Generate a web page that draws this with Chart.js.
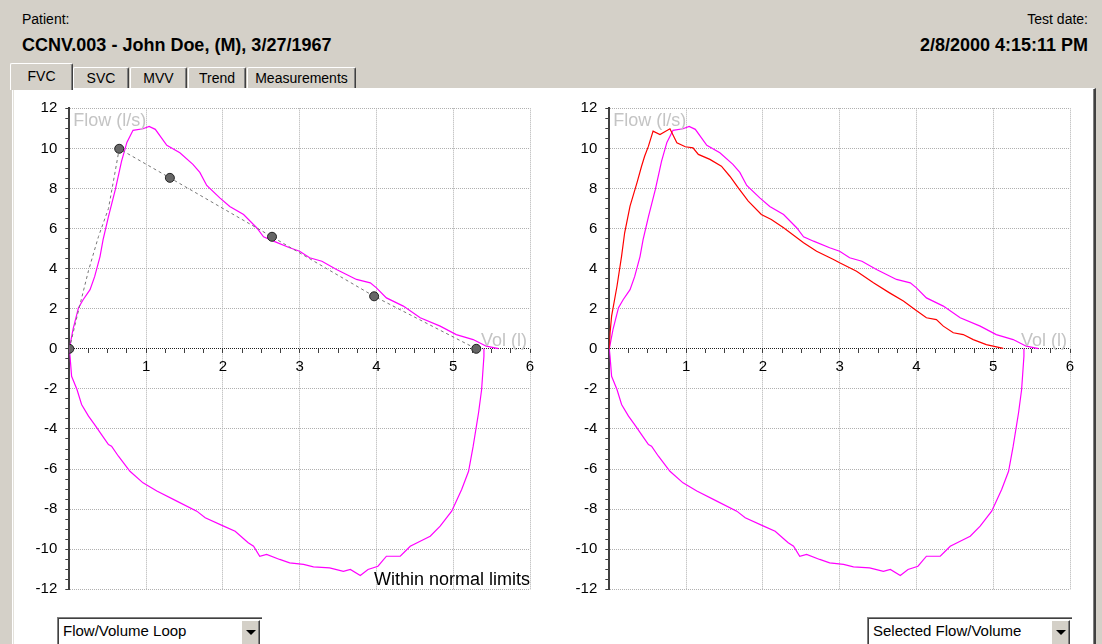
<!DOCTYPE html>
<html>
<head>
<meta charset="utf-8">
<script src="https://cdn.jsdelivr.net/npm/chart.js@4.4.1/dist/chart.umd.min.js"></script>
<style>
  html, body { margin: 0; padding: 0; }
  body {
    width: 1102px; height: 644px; overflow: hidden; position: relative;
    background: #d4d0c8; font-family: "Liberation Sans", Arial, sans-serif; color: #000;
  }
  .txt { position: absolute; white-space: nowrap; }
  .small { font-size: 14px; }
  .big { font-size: 18px; font-weight: bold; }
  .tab {
    position: absolute; top: 67px; height: 22px; box-sizing: border-box;
    background: #d4d0c8; border-left: 1px solid #fff; border-top: 1px solid #fff;
    border-right: 1px solid #404040; box-shadow: inset -1px 0 #808080;
    border-radius: 2px 2px 0 0; font-size: 14px; text-align: center; line-height: 20px;
  }
  .tab.active { top: 63px; height: 27px; z-index: 3; line-height: 24px; }
  #panel {
    position: absolute; left: 12px; top: 88px; width: 1084px; height: 570px; box-sizing: border-box;
    background: #fff; border-left: 1px solid #fff; border-top: 1px solid #fff;
    border-right: 2px solid #404040; box-shadow: inset -1px 0 #808080, inset 1px 0 #e4e2dc; z-index: 2;
  }
  canvas { position: absolute; top: 91px; z-index: 4; }
  .combo {
    position: absolute; top: 617px; width: 205px; height: 30px; box-sizing: border-box;
    background: #fff; border-top: 1px solid #808080; border-left: 1px solid #808080;
    box-shadow: inset 1px 1px #404040; font-size: 15px; z-index: 4;
  }
  .combo span { position: absolute; left: 5px; top: 4px; white-space: nowrap; }
  .combo .btn {
    position: absolute; right: 2px; top: 2px; width: 19px; height: 26px; box-sizing: border-box;
    background: #d4d0c8; border-left: 1px solid #fff; border-top: 1px solid #fff;
    border-right: 1px solid #404040; box-shadow: inset -1px 0 #808080;
  }
  .combo .btn::after {
    content: ""; position: absolute; left: 4px; top: 9px;
    border-left: 5px solid transparent; border-right: 5px solid transparent; border-top: 5px solid #000;
  }
</style>
</head>
<body>
<div class="txt small" style="left:22px;top:11px">Patient:</div>
<div class="txt big" style="left:22px;top:35px">CCNV.003 - John Doe, (M), 3/27/1967</div>
<div class="txt small" style="right:14px;top:11px">Test date:</div>
<div class="txt big" style="right:14px;top:35px">2/8/2000 4:15:11 PM</div>

<div class="tab active" style="left:10px;width:63px">FVC</div>
<div class="tab" style="left:73px;width:56px">SVC</div>
<div class="tab" style="left:130px;width:57px">MVV</div>
<div class="tab" style="left:188px;width:58px">Trend</div>
<div class="tab" style="left:247px;width:109px">Measurements</div>

<div id="panel"></div>

<canvas id="loopChart" width="540" height="516" style="left:14px"></canvas>
<canvas id="selChart" width="540" height="516" style="left:554px"></canvas>

<div class="combo" style="left:57px"><span>Flow/Volume Loop</span><div class="btn"></div></div>
<div class="combo" style="left:867px"><span>Selected Flow/Volume</span><div class="btn"></div></div>

<script>
// axis captions
const yTitle = 'Flow (l/s)';
const xTitle = 'Vol (l)';
const remark = 'Within normal limits';

// expiratory limb of the loop (magenta, both charts)
const expVol = [0, 0.05, 0.12, 0.18, 0.27, 0.33, 0.40, 0.44, 0.51, 0.60, 0.68, 0.75, 0.83, 0.96, 1.04, 1.12,
  1.27, 1.44, 1.61, 1.70, 1.79, 1.96, 2.09, 2.27, 2.44, 2.53, 2.66, 2.87, 3.00, 3.13, 3.29, 3.48,
  3.74, 3.92, 4.00, 4.13, 4.35, 4.57, 4.83, 5.04, 5.26, 5.43, 5.59];
const expFlow = [0, 1.0, 2.05, 2.45, 2.95, 3.6, 4.6, 5.45, 6.6, 7.95, 9.35, 10.3, 10.9, 10.98, 11.1, 10.95,
  10.15, 9.78, 9.2, 8.8, 8.15, 7.53, 7.1, 6.7, 6.04, 5.59, 5.37, 5.04, 4.87, 4.54, 4.37, 3.96,
  3.46, 3.29, 3.04, 2.54, 2.13, 1.55, 1.13, 0.71, 0.46, 0.13, 0.01];

// inspiratory limb (magenta, both charts)
const inspVol = [0, 0.01, 0.03, 0.10, 0.16, 0.25, 0.33, 0.42, 0.51, 0.55, 0.64, 0.79, 0.96, 1.14, 1.40, 1.66,
  1.77, 2.01, 2.16, 2.33, 2.40, 2.48, 2.57, 2.74, 2.87, 3.05, 3.18, 3.39, 3.57, 3.66, 3.79, 3.89,
  4.02, 4.13, 4.31, 4.44, 4.57, 4.70, 4.83, 4.98, 5.11, 5.20, 5.26, 5.33, 5.37, 5.40, 5.40];
const inspFlow = [0, -0.4, -1.37, -2.03, -2.78, -3.36, -3.78, -4.28, -4.78, -4.86, -5.36, -6.11, -6.69, -7.1, -7.6, -8.1,
  -8.43, -8.85, -9.1, -9.68, -9.85, -10.35, -10.26, -10.51, -10.68, -10.76, -10.88, -10.93, -11.1, -11.01, -11.31, -11.01,
  -10.85, -10.35, -10.35, -9.85, -9.6, -9.35, -8.85, -8.1, -7.02, -6.11, -4.86, -3.19, -2.03, -0.37, 0];

// predicted curve (dashed grey) and its marked points
const predVol = [0, 0.10, 0.25, 0.38, 0.51, 0.60, 0.65, 1.31, 2.64, 3.97, 5.30];
const predFlow = [0, 1.6, 3.9, 5.6, 7.0, 8.9, 9.98, 8.53, 5.59, 2.62, 0];
const markVol = [0, 0.65, 1.31, 2.64, 3.97, 5.30];
const markFlow = [0, 9.98, 8.53, 5.59, 2.62, 0];

// selected trial (red, right chart)
const selVol = [0, 0.01, 0.03, 0.10, 0.16, 0.20, 0.27, 0.36, 0.42, 0.46, 0.51, 0.57, 0.66, 0.79, 0.88, 0.99,
  1.09, 1.16, 1.31, 1.46, 1.57, 1.68, 1.81, 1.98, 2.11, 2.27, 2.53, 2.70, 2.92, 3.00, 3.22, 3.44,
  3.65, 3.83, 3.98, 4.13, 4.26, 4.35, 4.48, 4.61, 4.74, 4.91, 5.13];
const selFlow = [0, 0.8, 1.63, 3.12, 4.62, 5.79, 7.12, 8.28, 9.11, 9.61, 10.11, 10.86, 10.69, 10.98, 10.28, 10.08,
  10.03, 9.70, 9.45, 9.11, 8.61, 8.03, 7.37, 6.70, 6.45, 6.04, 5.29, 4.87, 4.46, 4.29, 3.87, 3.29,
  2.79, 2.38, 1.96, 1.55, 1.46, 1.13, 0.80, 0.71, 0.46, 0.21, 0.02];

const pts = (xs, ys) => xs.map((v, i) => ({ x: v, y: ys[i] }));
const FONT = '"Liberation Sans", Arial, sans-serif';

function line(xs, ys, color, extra) {
  return Object.assign({
    data: pts(xs, ys), showLine: true, borderColor: color, borderWidth: 1.2,
    pointRadius: 0, tension: 0, fill: false
  }, extra || {});
}

// captions inside the plot area
const notes = {
  id: 'notes',
  afterDatasetsDraw(chart, args, opts) {
    const { ctx } = chart;
    const x = chart.scales.x, y = chart.scales.y;
    ctx.save();
    ctx.font = '18px ' + FONT;
    ctx.fillStyle = '#c4c4c4';
    ctx.textAlign = 'left';
    ctx.fillText(yTitle, x.getPixelForValue(0) + 4, y.getPixelForValue(12) + 18);
    ctx.textAlign = 'right';
    ctx.fillText(xTitle, x.getPixelForValue(6) - 3, y.getPixelForValue(0) - 3);
    if (opts.remark) {
      ctx.fillStyle = '#000';
      ctx.fillText(opts.remark, x.getPixelForValue(6), y.getPixelForValue(-12) - 4);
    }
    ctx.restore();
  }
};

function makeChart(id, datasets, remarkText) {
  return new Chart(document.getElementById(id), {
    type: 'scatter',
    data: { datasets },
    options: {
      responsive: false,
      animation: false,
      layout: { padding: { top: 17.3, right: 24, bottom: 17.7, left: 0 } },
      plugins: { legend: { display: false }, tooltip: { enabled: false }, notes: { remark: remarkText } },
      scales: {
        x: {
          type: 'linear', min: 0, max: 6, position: { y: 0 },
          ticks: {
            stepSize: 0.25, autoSkip: false, maxRotation: 0, padding: 5, color: '#000',
            font: { family: FONT, size: 15 },
            callback: v => (v > 0 && Number.isInteger(v)) ? String(v) : ''
          },
          grid: {
            color: c => (c.tick && c.tick.value > 0 && Number.isInteger(c.tick.value)) ? '#b0b0b0' : 'transparent',
            tickColor: '#404040', tickLength: 4
          },
          border: { display: false, dash: [1, 1] }
        },
        y: {
          type: 'linear', min: -12, max: 12, position: 'left',
          afterFit: s => { s.width = 55.3; },
          ticks: {
            stepSize: 0.5, autoSkip: false, padding: 8, color: '#000',
            font: { family: FONT, size: 15 },
            callback: v => (v % 2 === 0) ? String(v) : ''
          },
          grid: {
            color: c => !c.tick ? 'transparent' : c.tick.value === 0 ? '#202020' : (c.tick.value % 2 === 0 ? '#b0b0b0' : 'transparent'),
            tickColor: '#404040', tickLength: 4
          },
          border: { display: true, color: '#404040', width: 2, dash: [1, 1] }
        }
      }
    },
    plugins: [notes]
  });
}

makeChart('loopChart', [
  { data: pts(markVol, markFlow), pointRadius: 4.5, pointBackgroundColor: '#666', pointBorderColor: '#222', pointBorderWidth: 1 },
  line(predVol, predFlow, '#777', { borderWidth: 1, borderDash: [3, 3] }),
  line(expVol, expFlow, '#ff00ff'),
  line(inspVol, inspFlow, '#ff00ff')
], remark);

makeChart('selChart', [
  line(selVol, selFlow, '#ff0000'),
  line(expVol, expFlow, '#ff00ff'),
  line(inspVol, inspFlow, '#ff00ff')
], null);
</script>
</body>
</html>
